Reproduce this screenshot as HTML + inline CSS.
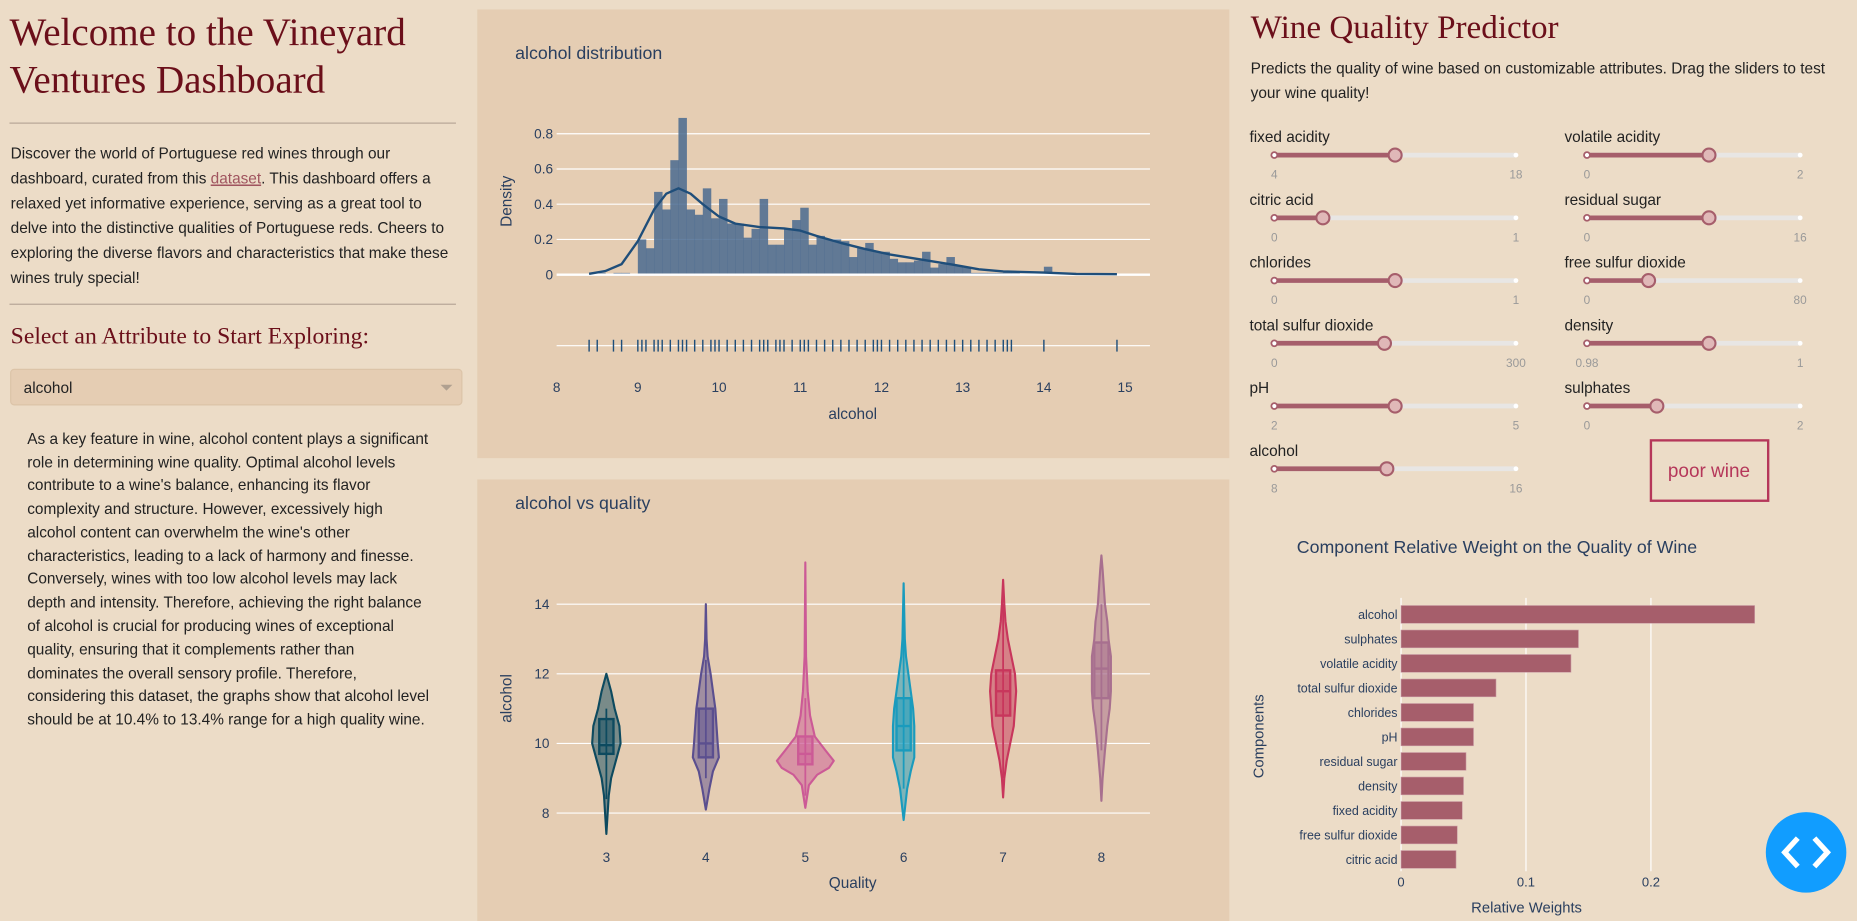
<!DOCTYPE html>
<html><head><meta charset="utf-8">
<style>
html,body{margin:0;padding:0;background:#ecdcc7;overflow:hidden}
svg{display:block}
.s{font-family:"Liberation Serif",serif;fill:#6b0f1a}
.b{font-family:"Liberation Sans",sans-serif;font-size:13px;fill:#222}
.p{font-family:"Liberation Sans",sans-serif;font-size:11.5px;fill:#2a3f5f}
.m{font-family:"Liberation Sans",sans-serif;font-size:10px;fill:#999}
</style></head><body>
<svg id="g" width="1857" height="921" viewBox="0 0 1568 778" preserveAspectRatio="none" xmlns="http://www.w3.org/2000/svg">
<rect width="1568" height="778" fill="#ecdcc7"/>
<text class="s" x="8" y="38" font-size="33">Welcome to the Vineyard</text>
<text class="s" x="8" y="78" font-size="33">Ventures Dashboard</text>
<line x1="8" y1="104" x2="385" y2="104" stroke="#b9a898"/>
<g class="b">
<text x="9" y="134">Discover the world of Portuguese red wines through our</text>
<text x="9" y="155">dashboard, curated from this <tspan fill="#a0555f" text-decoration="underline">dataset</tspan>. This dashboard offers a</text>
<text x="9" y="176">relaxed yet informative experience, serving as a great tool to</text>
<text x="9" y="197">delve into the distinctive qualities of Portuguese reds. Cheers to</text>
<text x="9" y="218">exploring the diverse flavors and characteristics that make these</text>
<text x="9" y="239">wines truly special!</text>
</g>
<line x1="8" y1="257" x2="385" y2="257" stroke="#b9a898"/>
<text class="s" x="9" y="290" font-size="20">Select an Attribute to Start Exploring:</text>
<rect x="9" y="312" width="381" height="30" rx="3" fill="#e5cdb3" stroke="#dcc4a8"/>
<text class="b" x="20" y="332" fill="#333">alcohol</text>
<path d="M372 325 l5 5 l5 -5z" fill="#b0a090"/>
<g class="b">
<text x="23" y="375">As a key feature in wine, alcohol content plays a significant</text>
<text x="23" y="395">role in determining wine quality. Optimal alcohol levels</text>
<text x="23" y="414">contribute to a wine's balance, enhancing its flavor</text>
<text x="23" y="434">complexity and structure. However, excessively high</text>
<text x="23" y="454">alcohol content can overwhelm the wine's other</text>
<text x="23" y="474">characteristics, leading to a lack of harmony and finesse.</text>
<text x="23" y="493">Conversely, wines with too low alcohol levels may lack</text>
<text x="23" y="513">depth and intensity. Therefore, achieving the right balance</text>
<text x="23" y="533">of alcohol is crucial for producing wines of exceptional</text>
<text x="23" y="553">quality, ensuring that it complements rather than</text>
<text x="23" y="573">dominates the overall sensory profile. Therefore,</text>
<text x="23" y="592">considering this dataset, the graphs show that alcohol level</text>
<text x="23" y="612">should be at 10.4% to 13.4% range for a high quality wine.</text>
</g>
<rect x="403" y="8" width="635" height="379" fill="#e5cdb3"/>
<rect x="403" y="405" width="635" height="373" fill="#e5cdb3"/>
<text class="p" x="435" y="50" style="font-size:15px">alcohol distribution</text>
<text class="p" x="435" y="430" style="font-size:15px">alcohol vs quality</text>
<g id="hist"></g>
<g id="vio"></g>
<text class="s" x="1056" y="32" font-size="28">Wine Quality Predictor</text>
<text class="b" x="1056" y="62">Predicts the quality of wine based on customizable attributes. Drag the sliders to test</text>
<text class="b" x="1056" y="83">your wine quality!</text>
<g id="sl"></g>
<rect x="1394" y="372" width="99" height="51" fill="none" stroke="#b5375a" stroke-width="2"/>
<text x="1443" y="403" text-anchor="middle" font-family="Liberation Sans,sans-serif" font-size="16" fill="#b5375a">poor wine</text>
<text class="p" x="1264" y="467" text-anchor="middle" style="font-size:15px">Component Relative Weight on the Quality of Wine</text>
<g id="bar"></g>
<circle cx="1525" cy="720" r="34" fill="#119dff"/>
<path d="M1518 708 l-11 12 l11 12 M1532 708 l11 12 l-11 12" stroke="#fff" stroke-width="4.5" fill="none"/>
</svg>
<script>
const NS="http://www.w3.org/2000/svg";
function el(p,t,a,txt){const e=document.createElementNS(NS,t);for(const k in a){if(k==='fs')e.style.fontSize=a[k]+'px';else e.setAttribute(k,a[k]);}if(txt!==undefined)e.textContent=txt;p.appendChild(e);return e;}
(function(){
const g=document.getElementById('hist');
const X=v=>470+(v-8)*68.57, Y=d=>232-d*148.75;
[0.2,0.4,0.6,0.8].forEach(d=>el(g,'line',{x1:470,x2:971,y1:Y(d),y2:Y(d),stroke:'#fff','stroke-width':1}));
[0,0.2,0.4,0.6,0.8].forEach(d=>el(g,'text',{class:'p',x:467,y:Y(d)+4,'text-anchor':'end'},d===0?'0':d));
const bins=[[8.4,.01],[8.5,.01],[8.7,.01],[8.8,.01],[9.0,.2],[9.1,.15],[9.2,.47],[9.3,.37],[9.4,.65],[9.5,.89],[9.6,.37],[9.7,.34],[9.8,.49],[9.9,.32],[10.0,.43],[10.1,.29],[10.2,.29],[10.3,.21],[10.4,.26],[10.5,.43],[10.6,.17],[10.7,.17],[10.8,.26],[10.9,.31],[11.0,.38],[11.1,.17],[11.2,.22],[11.3,.2],[11.4,.2],[11.5,.19],[11.6,.1],[11.7,.15],[11.8,.18],[11.9,.13],[12.0,.13],[12.1,.09],[12.2,.07],[12.3,.07],[12.4,.08],[12.5,.13],[12.6,.04],[12.7,.06],[12.8,.1],[12.9,.05],[13.0,.04],[13.1,.01],[13.2,.01],[13.3,.01],[13.4,.01],[13.5,.02],[13.6,.02],[14.0,.045],[14.9,.004]];
bins.forEach(([v,d])=>el(g,'rect',{x:X(v),y:Y(d),width:68.57*0.1+0.3,height:d*148.75,fill:'#4a6a8f','fill-opacity':0.85}));
el(g,'line',{x1:470,x2:971,y1:232,y2:232,stroke:'#fff','stroke-width':2});
const k=[[8.4,.005],[8.6,.02],[8.8,.06],[9.0,.19],[9.2,.37],[9.35,.46],[9.5,.49],[9.65,.46],[9.8,.4],[10,.33],[10.2,.29],[10.5,.27],[10.8,.262],[11.0,.25],[11.2,.22],[11.5,.18],[11.8,.145],[12.1,.115],[12.5,.085],[12.9,.055],[13.2,.03],[13.5,.018],[14,.012],[14.4,.004],[14.9,.003]];
let d='';k.forEach((p,i)=>{d+=(i?'L':'M')+X(p[0]).toFixed(1)+' '+Y(p[1]).toFixed(1)});
el(g,'path',{d,fill:'none',stroke:'#1f4e7a','stroke-width':2,'stroke-linejoin':'round'});
el(g,'line',{x1:470,x2:971,y1:292,y2:292,stroke:'#fff','stroke-width':1});
const rug=[8.4,8.5,8.7,8.8,9,9.05,9.1,9.2,9.25,9.3,9.4,9.5,9.55,9.6,9.7,9.8,9.9,9.95,10,10.1,10.2,10.3,10.4,10.5,10.55,10.6,10.7,10.75,10.8,10.9,11,11.05,11.1,11.2,11.3,11.4,11.5,11.6,11.7,11.8,11.9,11.95,12,12.1,12.2,12.3,12.4,12.5,12.6,12.7,12.8,12.9,13,13.1,13.2,13.3,13.4,13.5,13.55,13.6,14,14.9];
rug.forEach(v=>el(g,'line',{x1:X(v),x2:X(v),y1:287,y2:297,stroke:'#1f4e7a','stroke-width':1.2}));
for(let v=8;v<=15;v++)el(g,'text',{class:'p',x:X(v),y:331,'text-anchor':'middle'},v);
el(g,'text',{class:'p',x:720,y:354,'text-anchor':'middle',fs:13},'alcohol');
el(g,'text',{class:'p',x:432,y:170,'text-anchor':'middle',fs:13,transform:'rotate(-90 432 170)'},'Density');
})();
(function(){
const g=document.getElementById('vio');
const Y=v=>628-(v-10)*29.4;
[8,10,12,14].forEach(v=>{el(g,'line',{x1:470,x2:971,y1:Y(v),y2:Y(v),stroke:'#fff'});el(g,'text',{class:'p',x:464,y:Y(v)+4,'text-anchor':'end'},v)});
const V=[
 {x:512,c:'#0d4a5f',p:[[7.4,0],[8.5,2],[9,4],[9.5,8],[10,12],[10.5,11],[11,7],[11.5,4],[12,0]],b:[9.7,10.7,9.95,8.4,11]},
 {x:596,c:'#5b4f8f',p:[[8.1,0],[8.7,3],[9.2,6],[9.6,11],[10,10],[10.5,9],[11,8],[11.5,6],[12,4],[12.5,1.5],[13,0.6],[14,0]],b:[9.6,11,10,9,12.4]},
 {x:680,c:'#cc5a96',p:[[8.15,0],[8.8,3],[9.1,10],[9.3,20],[9.5,24],[9.8,17],[10.2,8],[10.8,4],[11.5,2],[12.5,0.6],[15.2,0]],b:[9.4,10.2,9.7,8.5,11.3]},
 {x:763,c:'#1a9bbd',p:[[7.8,0],[8.7,3],[9.2,6],[9.6,9],[10,9],[10.5,9],[11,8],[11.5,6],[12,4],[12.5,2],[13,1],[14.6,0]],b:[9.8,11.3,10.5,8.7,13.4]},
 {x:847,c:'#c8365c',p:[[8.45,0],[9,1],[9.5,3],[10,6],[10.5,9],[11,10],[11.5,11],[12,10],[12.5,7],[13,4],[13.5,2],[14,1],[14.7,0]],b:[10.8,12.1,11.5,9,14]},
 {x:930,c:'#a8708f',p:[[8.35,0],[9,1],[9.8,3],[10.5,5],[11,7],[11.5,8],[12,8],[12.5,8],[13,6],[13.5,5],[14,3],[14.5,2],[15,1],[15.4,0]],b:[11.3,12.9,12.15,9.8,14]}];
V.forEach(o=>{
 let d='';o.p.forEach((q,i)=>d+=(i?'L':'M')+(o.x+q[1])+' '+Y(q[0]));
 o.p.slice().reverse().forEach(q=>d+='L'+(o.x-q[1])+' '+Y(q[0]));d+='Z';
 el(g,'path',{d,fill:o.c,'fill-opacity':0.5,stroke:o.c,'stroke-width':1.8,'stroke-linejoin':'round'});
 const b=o.b;
 el(g,'line',{x1:o.x,x2:o.x,y1:Y(b[4]),y2:Y(b[3]),stroke:o.c,'stroke-width':1.5});
 el(g,'rect',{x:o.x-6,y:Y(b[1]),width:12,height:Y(b[0])-Y(b[1]),fill:o.c,'fill-opacity':0.5,stroke:o.c,'stroke-width':2});
 el(g,'line',{x1:o.x-6,x2:o.x+6,y1:Y(b[2]),y2:Y(b[2]),stroke:o.c,'stroke-width':2});
});
[3,4,5,6,7,8].forEach((q,i)=>el(g,'text',{class:'p',x:V[i].x,y:728,'text-anchor':'middle'},q));
el(g,'text',{class:'p',x:720,y:750,'text-anchor':'middle',fs:13},'Quality');
el(g,'text',{class:'p',x:432,y:590,'text-anchor':'middle',fs:13,transform:'rotate(-90 432 590)'},'alcohol');
})();
(function(){
const g=document.getElementById('sl');
const L=[['fixed acidity',1178,'4','18'],['citric acid',1117,'0','1'],['chlorides',1178,'0','1'],['total sulfur dioxide',1169,'0','300'],['pH',1178,'2','5'],['alcohol',1171,'8','16']];
const R=[['volatile acidity',1443,'0','2'],['residual sugar',1443,'0','16'],['free sulfur dioxide',1392,'0','80'],['density',1443,'0.98','1'],['sulphates',1399,'0','2']];
function s(lx,x0,x1,y,o){
 el(g,'text',{class:'b',x:lx,y:y+5},o[0]);
 const ty=y+16;
 el(g,'line',{x1:x0,x2:x1,y1:ty,y2:ty,stroke:'#e8e6e4','stroke-width':4,'stroke-linecap':'round'});
 el(g,'line',{x1:x0,x2:o[1],y1:ty,y2:ty,stroke:'#a65e6b','stroke-width':4});
 el(g,'circle',{cx:x0,cy:ty,r:2.5,fill:'#fff',stroke:'#a65e6b','stroke-width':1.5});
 el(g,'circle',{cx:x1,cy:ty,r:2,fill:'#fff'});
 el(g,'circle',{cx:o[1],cy:ty,r:5.5,fill:'#e0b8b8',stroke:'#a65e6b','stroke-width':1.8});
 el(g,'text',{class:'m',x:x0,y:ty+20,'text-anchor':'middle'},o[2]);
 el(g,'text',{class:'m',x:x1,y:ty+20,'text-anchor':'middle'},o[3]);
}
L.forEach((o,i)=>s(1055,1076,1280,115+i*53,o));
R.forEach((o,i)=>s(1321,1340,1520,115+i*53,o));
})();
(function(){
const g=document.getElementById('bar');
const X=v=>1183+v*1055;
[0.1,0.2].forEach(v=>el(g,'line',{x1:X(v),x2:X(v),y1:505,y2:736,stroke:'#fff'}));
el(g,'line',{x1:1183,x2:1183,y1:505,y2:736,stroke:'#fff'});
const B=[['alcohol',.283],['sulphates',.142],['volatile acidity',.136],['total sulfur dioxide',.076],['chlorides',.058],['pH',.058],['residual sugar',.052],['density',.050],['fixed acidity',.049],['free sulfur dioxide',.045],['citric acid',.044]];
B.forEach((b,i)=>{const y=519+i*20.7;
 el(g,'rect',{x:1183,y:y-7.5,width:X(b[1])-1183,height:15,fill:'#a65e6b',stroke:'#c99aa3','stroke-width':0.5});
 el(g,'text',{class:'p',x:1180,y:y+4,'text-anchor':'end',fs:10.5},b[0]);});
[['0',0],['0.1',.1],['0.2',.2]].forEach(t=>el(g,'text',{class:'p',x:X(t[1]),y:749,'text-anchor':'middle',fs:11},t[0]));
el(g,'text',{class:'p',x:1289,y:771,'text-anchor':'middle',fs:12.5},'Relative Weights');
el(g,'text',{class:'p',x:1067,y:622,'text-anchor':'middle',fs:12.5,transform:'rotate(-90 1067 622)'},'Components');
})();
</script>
</body></html>
